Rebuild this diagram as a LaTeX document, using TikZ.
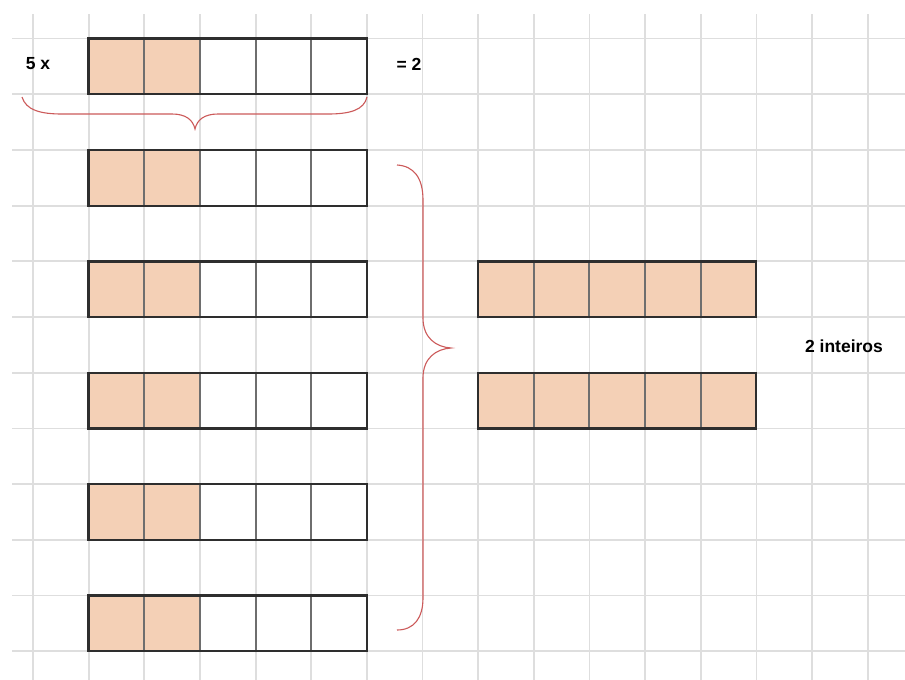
\documentclass[tikz,border=0pt]{standalone}
\usepackage{fontspec}
\setmainfont{Liberation Sans}
\definecolor{gridc}{HTML}{DEDEDE}
\definecolor{fillc}{HTML}{F4D0B6}
\definecolor{bracec}{HTML}{CC5A5A}
\definecolor{outc}{HTML}{2E2E2E}
\definecolor{innc}{HTML}{6E6E6E}
\begin{document}
\begin{tikzpicture}[x=1pt,y=-1pt,
  gridline/.style={draw=gridc,line width=1.8pt},
  cell/.style={draw=innc,line width=2pt,minimum size=55.7pt,inner sep=0pt,outer sep=0pt},
  filled/.style={cell,fill=fillc},
  empty/.style={cell,fill=white},
  outline/.style={draw=outc,line width=2.3pt},
  brace/.style={draw=bracec,line width=1.1pt},
  lbl/.style={font=\bfseries\fontsize{17.5}{19}\selectfont,inner sep=0pt}]
\useasboundingbox (0,0) rectangle (905,680);
\fill[white] (0,0) rectangle (905,680);
% grid
\foreach \k in {0,...,15} \draw[gridline] (33+55.65*\k,14) -- (33+55.65*\k,680);
\foreach \m in {0,...,11} \draw[gridline] (12,38.5+55.7*\m) -- (905,38.5+55.7*\m);
% left bars
\foreach \r/\yy in {0/38.5,1/150,2/261.5,3/372.8,4/484.2,5/595.6}{
  \foreach \c in {0,...,4}{
    \ifnum\c<2
      \node[filled] (a\r c\c) at (88.5+55.7*\c+27.85,\yy+27.85) {};
    \else
      \node[empty] (a\r c\c) at (88.5+55.7*\c+27.85,\yy+27.85) {};
    \fi
  }
  \draw[outline] (a\r c0.north west) rectangle (a\r c4.south east);
}
% right bars
\foreach \r/\yy in {0/261.5,1/372.8}{
  \foreach \c in {0,...,4}
    \node[filled] (b\r c\c) at (478+55.65*\c+27.85,\yy+27.85) {};
  \draw[outline] (b\r c0.north west) rectangle (b\r c4.south east);
}
% labels
\node[lbl] (five) at (38,63.5) {5 x};
\node[lbl] (eq) at (409,64.5) {= 2};
\node[lbl] (whole) at (844,346) {2 inteiros};
% horizontal brace
\coordinate (hL) at (22,97);
\coordinate (hT) at (195,129);
\coordinate (hR) at (367,97);
\draw[brace] (hL) .. controls (26,110) and (40,114) .. (62,114) -- (172,114)
  .. controls (186,114) and (193,120) .. (hT)
  .. controls (197,120) and (204,114) .. (218,114) -- (328,114)
  .. controls (350,114) and (364,110) .. (hR);
% vertical brace
\coordinate (vT) at (397,165);
\coordinate (vM) at (451,348);
\coordinate (vB) at (397,630);
\draw[brace] (vT) .. controls (414,166) and (423,178) .. (423,200) -- (423,318)
  .. controls (423,338) and (436,347) .. (vM)
  .. controls (436,349) and (423,358) .. (423,378) -- (423,598)
  .. controls (423,618) and (414,630) .. (vB);
\end{tikzpicture}
\end{document}
